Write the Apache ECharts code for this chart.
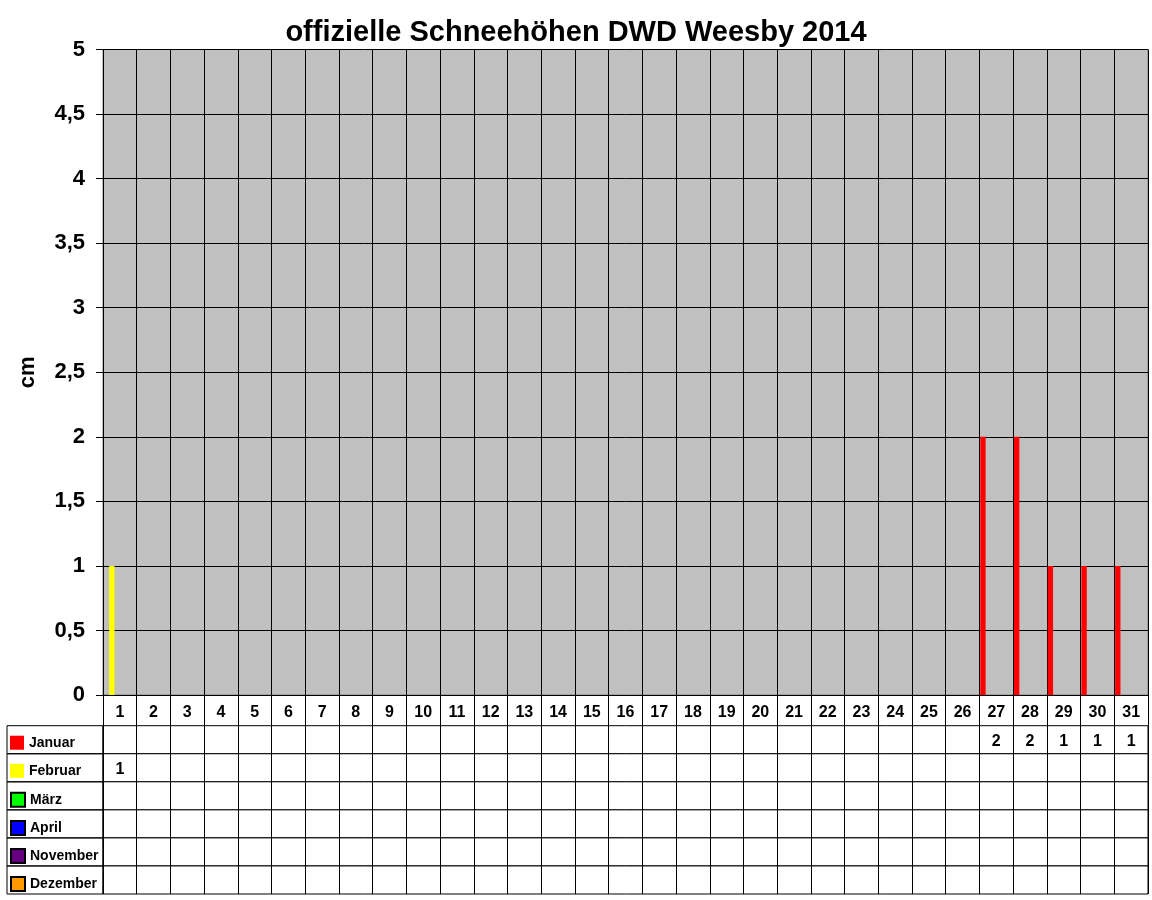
<!DOCTYPE html>
<html>
<head>
<meta charset="utf-8">
<script src="https://cdn.jsdelivr.net/npm/echarts@6/dist/echarts.min.js"></script>
<style>html,body{margin:0;padding:0;background:#fff;}#c{width:1152px;height:900px;}</style>
</head>
<body>
<div id="c"></div>
<script>
const titleText = 'offizielle Schneehöhen DWD Weesby 2014';
const days = Array.from({length: 31}, (_, i) => String(i + 1));
const months = ['Januar', 'Februar', 'März', 'April', 'November', 'Dezember'];
const monthColors = ['#FF0000', '#FFFF00', '#00FF00', '#0000FF', '#660080', '#FF9900'];
const yTicks = ['0','0,5','1','1,5','2','2,5','3','3,5','4','4,5','5'];
// snow depth per day (cm), null = no value
const januar   = [null,null,null,null,null,null,null,null,null,null,null,null,null,null,null,null,null,null,null,null,null,null,null,null,null,null,2,2,1,1,1];
const februar  = [1,null,null,null,null,null,null,null,null,null,null,null,null,null,null,null,null,null,null,null,null,null,null,null,null,null,null,null,null,null,null];
const maerz    = new Array(31).fill(null);
const april    = new Array(31).fill(null);
const november = new Array(31).fill(null);
const dezember = new Array(31).fill(null);
const monthData = [januar, februar, maerz, april, november, dezember];

const FONT = "'Liberation Sans', Arial, sans-serif";
const plotLeft = 103, plotRight = 4, plotTop = 49.5, plotBottomY = 695;
const tableTop = 725.7, rowH = 28.05;

const grids = [{left: plotLeft, right: plotRight, top: plotTop, height: plotBottomY - plotTop,
  show: true, backgroundColor: '#C0C0C0', borderColor: '#808080', borderWidth: 1}];
const xAxes = [{
  type: 'category', data: days, gridIndex: 0, boundaryGap: true,
  axisLine: {show: true, lineStyle: {color: '#000', width: 1}},
  axisTick: {show: true, interval: 0, length: tableTop - plotBottomY, lineStyle: {color: '#000', width: 1}},
  axisLabel: {interval: 0, margin: 10, fontFamily: FONT, fontWeight: 'bold', fontSize: 16, color: '#000'},
  splitLine: {show: true, interval: 0, lineStyle: {color: '#000', width: 1}}
}];
const yAxes = [{
  type: 'value', gridIndex: 0, min: 0, max: 5, interval: 0.5,
  name: 'cm', nameLocation: 'middle', nameGap: 64, nameRotate: 90,
  nameTextStyle: {fontFamily: FONT, fontWeight: 'bold', fontSize: 22, color: '#000'},
  axisLine: {show: true, lineStyle: {color: '#000', width: 1}},
  axisTick: {show: true, length: 7, lineStyle: {color: '#000'}},
  axisLabel: {margin: 18, fontFamily: FONT, fontWeight: 'bold', fontSize: 22, color: '#000',
    formatter: (v) => yTicks[Math.round(v * 2)]},
  splitLine: {show: true, lineStyle: {color: '#000', width: 1}}
}];
const series = [];
const legends = [];
months.forEach((m, i) => {
  const hasBorder = i >= 2;
  series.push({
    name: m, type: 'bar', xAxisIndex: 0, yAxisIndex: 0,
    data: monthData[i], barGap: '0%', barCategoryGap: '5%',
    itemStyle: {color: monthColors[i], borderColor: hasBorder ? '#000' : monthColors[i], borderWidth: hasBorder ? 1 : 0},
    emphasis: {disabled: true}, animation: false
  });
  grids.push({left: plotLeft, right: plotRight, top: tableTop + i * rowH, height: rowH,
    show: true, backgroundColor: '#fff', borderColor: '#000', borderWidth: 1});
  xAxes.push({type: 'category', data: days, gridIndex: i + 1, boundaryGap: true,
    axisLine: {show: false}, axisTick: {show: false}, axisLabel: {show: false},
    splitLine: {show: true, interval: 0, lineStyle: {color: '#000', width: 1}}});
  yAxes.push({type: 'value', gridIndex: i + 1, min: -1, max: 1, show: false, splitLine: {show: false}});
  const pts = [];
  monthData[i].forEach((v, d) => { if (v !== null) pts.push([d, 0, v]); });
  series.push({
    name: m + ' Tabelle', type: 'custom', xAxisIndex: i + 1, yAxisIndex: i + 1,
    data: pts, silent: true, animation: false,
    renderItem: (params, api) => {
      const p = api.coord([api.value(0), api.value(1)]);
      return {type: 'text', x: p[0], y: p[1] + 2,
        style: {text: String(api.value(2)), fill: '#000', align: 'center', verticalAlign: 'middle',
          font: 'bold 16px ' + FONT}};
    }
  });
  legends.push({data: [m], orient: 'vertical', left: 10, top: tableTop + i * rowH + (rowH - 14) / 2 + 3,
    padding: 0, itemWidth: 14, itemHeight: 14, icon: 'rect', selectedMode: false,
    textStyle: {fontFamily: FONT, fontWeight: 'bold', fontSize: 14, color: '#000'}});
});

const leftCells = months.map((m, i) => ({
  type: 'rect', shape: {x: 7, y: tableTop + i * rowH, width: plotLeft - 7, height: rowH},
  style: {fill: null, stroke: '#000', lineWidth: 1}, silent: true
}));

const chart = echarts.init(document.getElementById('c'), null, {renderer: 'canvas'});
chart.setOption({
  animation: false,
  backgroundColor: '#fff',
  title: {text: titleText, left: 'center', top: 13,
    textStyle: {fontFamily: FONT, fontWeight: 'bold', fontSize: 29, color: '#000'}},
  legend: legends,
  tooltip: {show: false},
  grid: grids, xAxis: xAxes, yAxis: yAxes, series: series,
  graphic: leftCells
});
</script>
</body>
</html>
